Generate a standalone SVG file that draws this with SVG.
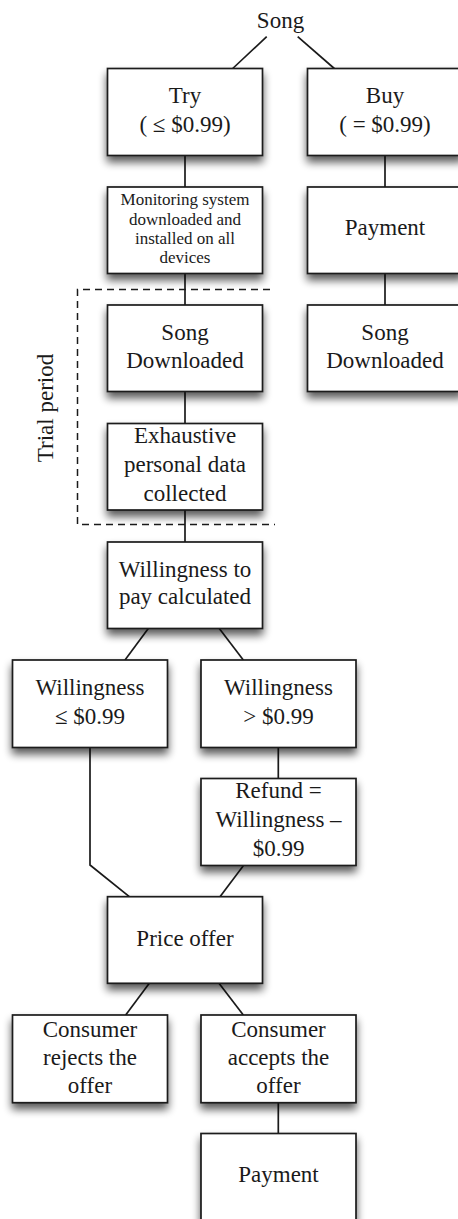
<svg xmlns="http://www.w3.org/2000/svg" width="458" height="1219" viewBox="0 0 458 1219">
<style>
.box{fill:#fff;stroke:#1a1a1a;stroke-width:1.7;filter:url(#sh)}
.ln{fill:none;stroke:#1a1a1a;stroke-width:1.7}
.dash{fill:none;stroke:#1a1a1a;stroke-width:1.5;stroke-dasharray:7 5}
text{font-family:"Liberation Serif","Times New Roman",serif;font-size:23px;fill:#1a1a1a;text-anchor:middle}
.sm{font-size:17px}
</style>
<defs>
<filter id="sh" x="-20%" y="-20%" width="140%" height="150%">
<feGaussianBlur in="SourceAlpha" stdDeviation="4"/>
<feOffset dx="0" dy="6" result="b"/>
<feComponentTransfer><feFuncA type="linear" slope="0.65"/></feComponentTransfer>
<feMerge><feMergeNode/><feMergeNode in="SourceGraphic"/></feMerge>
</filter>
</defs>
<rect width="458" height="1219" fill="#fff"/>
<g id="trial-period">
<path class="dash" d="M270,289.5 H77.5 V524.5 H275"/>
<text transform="translate(53,408) rotate(-90)">Trial period</text>
</g>
<g id="connectors">
<path class="ln" d="M266.7,36.7 L232.7,68.5"/>
<path class="ln" d="M297.7,36.7 L334.3,68.5"/>
<path class="ln" d="M185,155.5 V187"/>
<path class="ln" d="M385,155.5 V187"/>
<path class="ln" d="M185,273.5 V305"/>
<path class="ln" d="M385,273.5 V305"/>
<path class="ln" d="M185,391.5 V423.5"/>
<path class="ln" d="M185,510 V542"/>
<path class="ln" d="M148.3,628.5 L125,660"/>
<path class="ln" d="M219.3,628.5 L243.3,660"/>
<path class="ln" d="M90,747.5 V865 L129.3,896.7"/>
<path class="ln" d="M278.3,747.5 V778.5"/>
<path class="ln" d="M243.3,865.7 L220,896.7"/>
<path class="ln" d="M149.3,983.3 L125.7,1015"/>
<path class="ln" d="M219,983.3 L243.3,1015"/>
<path class="ln" d="M278.3,1102.7 V1133.5"/>
</g>
<g id="song"><text x="280.5" y="28">Song</text></g>
<g id="try"><rect class="box" x="107.5" y="68.5" width="155" height="87"/><text x="185" y="103">Try</text><text x="185" y="131.5">( ≤ $0.99)</text></g>
<g id="buy"><rect class="box" x="307.5" y="68.5" width="155" height="87"/><text x="385" y="103">Buy</text><text x="385" y="131.5">( = $0.99)</text></g>
<g id="monitoring"><rect class="box" x="107.5" y="187" width="155" height="86.5"/><text class="sm" x="185" y="205">Monitoring system</text><text class="sm" x="185" y="224.5">downloaded and</text><text class="sm" x="185" y="244">installed on all</text><text class="sm" x="185" y="263">devices</text></g>
<g id="payment1"><rect class="box" x="307.5" y="187" width="155" height="86.5"/><text x="385" y="235">Payment</text></g>
<g id="song-downloaded-try"><rect class="box" x="107.5" y="305" width="155" height="86.5"/><text x="185" y="340">Song</text><text x="185" y="368.3">Downloaded</text></g>
<g id="song-downloaded-buy"><rect class="box" x="307.5" y="305" width="155" height="86.5"/><text x="385" y="340">Song</text><text x="385" y="368.3">Downloaded</text></g>
<g id="exhaustive"><rect class="box" x="107.5" y="423.5" width="155" height="86.5"/><text x="185" y="443.3">Exhaustive</text><text x="185" y="472.3">personal data</text><text x="185" y="500.7">collected</text></g>
<g id="willingness-calc"><rect class="box" x="107.5" y="542" width="155" height="86.5"/><text x="185" y="576.7">Willingness to</text><text x="185" y="604">pay calculated</text></g>
<g id="willingness-le"><rect class="box" x="12.5" y="660" width="155" height="87.5"/><text x="90" y="695">Willingness</text><text x="90" y="724">≤ $0.99</text></g>
<g id="willingness-gt"><rect class="box" x="201" y="660" width="155" height="87.5"/><text x="278.5" y="695">Willingness</text><text x="278.5" y="724">&gt; $0.99</text></g>
<g id="refund"><rect class="box" x="201" y="778.5" width="155" height="87"/><text x="278.5" y="798.3">Refund =</text><text x="278.5" y="827.3">Willingness –</text><text x="278.5" y="856">$0.99</text></g>
<g id="price-offer"><rect class="box" x="107.5" y="896.7" width="155" height="86.6"/><text x="185" y="945.5">Price offer</text></g>
<g id="rejects"><rect class="box" x="12.5" y="1015" width="155" height="87.7"/><text x="90" y="1036.7">Consumer</text><text x="90" y="1065">rejects the</text><text x="90" y="1093.3">offer</text></g>
<g id="accepts"><rect class="box" x="201" y="1015" width="155" height="87.7"/><text x="278.5" y="1036.7">Consumer</text><text x="278.5" y="1065">accepts the</text><text x="278.5" y="1093.3">offer</text></g>
<g id="payment2"><rect class="box" x="201" y="1133.5" width="155" height="87"/><text x="278.5" y="1182.3">Payment</text></g>
</svg>
